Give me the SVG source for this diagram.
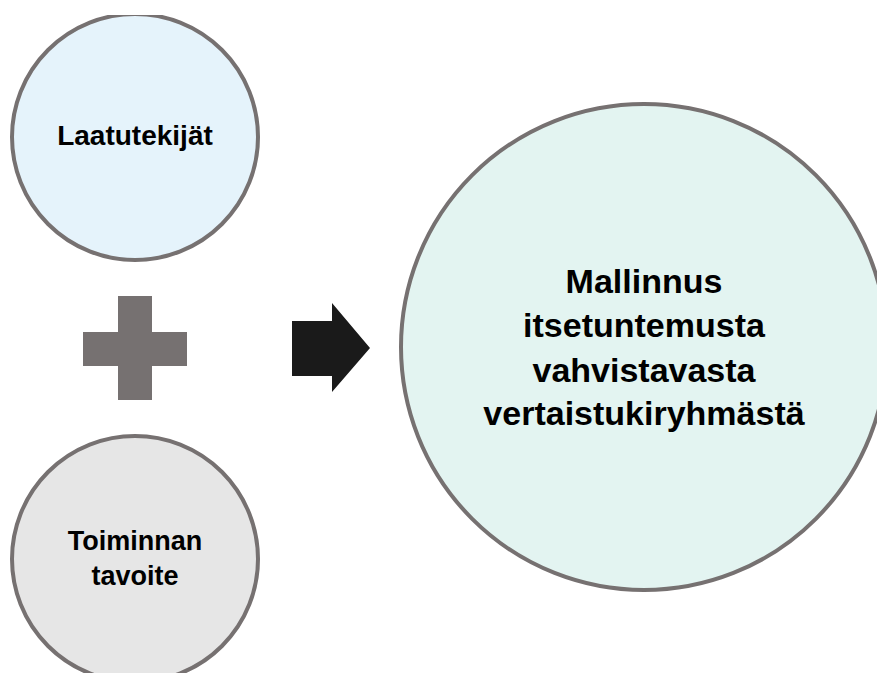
<svg xmlns="http://www.w3.org/2000/svg" width="877" height="676" viewBox="0 0 877 676">
<style>
.node{stroke:#767171;stroke-width:4}
.lbl{font-family:"Liberation Sans",Arial,sans-serif;font-weight:bold;fill:#000;text-anchor:middle}
</style>
<defs>
<clipPath id="crop"><rect x="0" y="15" width="877" height="658"/></clipPath>
</defs>
<rect width="877" height="676" fill="#fff"/>
<g id="laatutekijat">
<circle class="node" cx="135" cy="137" r="123" fill="#E5F3FB" clip-path="url(#crop)"/>
<text class="lbl" x="135" y="145" font-size="28">Laatutekijät</text>
</g>
<g id="toiminnan-tavoite">
<circle class="node" cx="135" cy="559" r="123" fill="#E6E6E6" clip-path="url(#crop)"/>
<text class="lbl" x="135" y="550" font-size="27">Toiminnan</text>
<text class="lbl" x="135" y="585" font-size="27">tavoite</text>
</g>
<g id="plus">
<path d="M118 296 H152 V332 H187 V366 H152 V400 H118 V366 H83 V332 H118 Z" fill="#767171"/>
</g>
<g id="connectors">
<path d="M292 321 H332 V303 L370 348 L332 392 V376 H292 Z" fill="#1A1A1A"/>
</g>
<g id="mallinnus">
<circle class="node" cx="644" cy="347" r="243" fill="#E3F4F1"/>
<text class="lbl" x="644" y="293" font-size="34">Mallinnus</text>
<text class="lbl" x="644" y="337" font-size="34">itsetuntemusta</text>
<text class="lbl" x="644" y="382" font-size="34">vahvistavasta</text>
<text class="lbl" x="644" y="425" font-size="34">vertaistukiryhmästä</text>
</g>
</svg>
